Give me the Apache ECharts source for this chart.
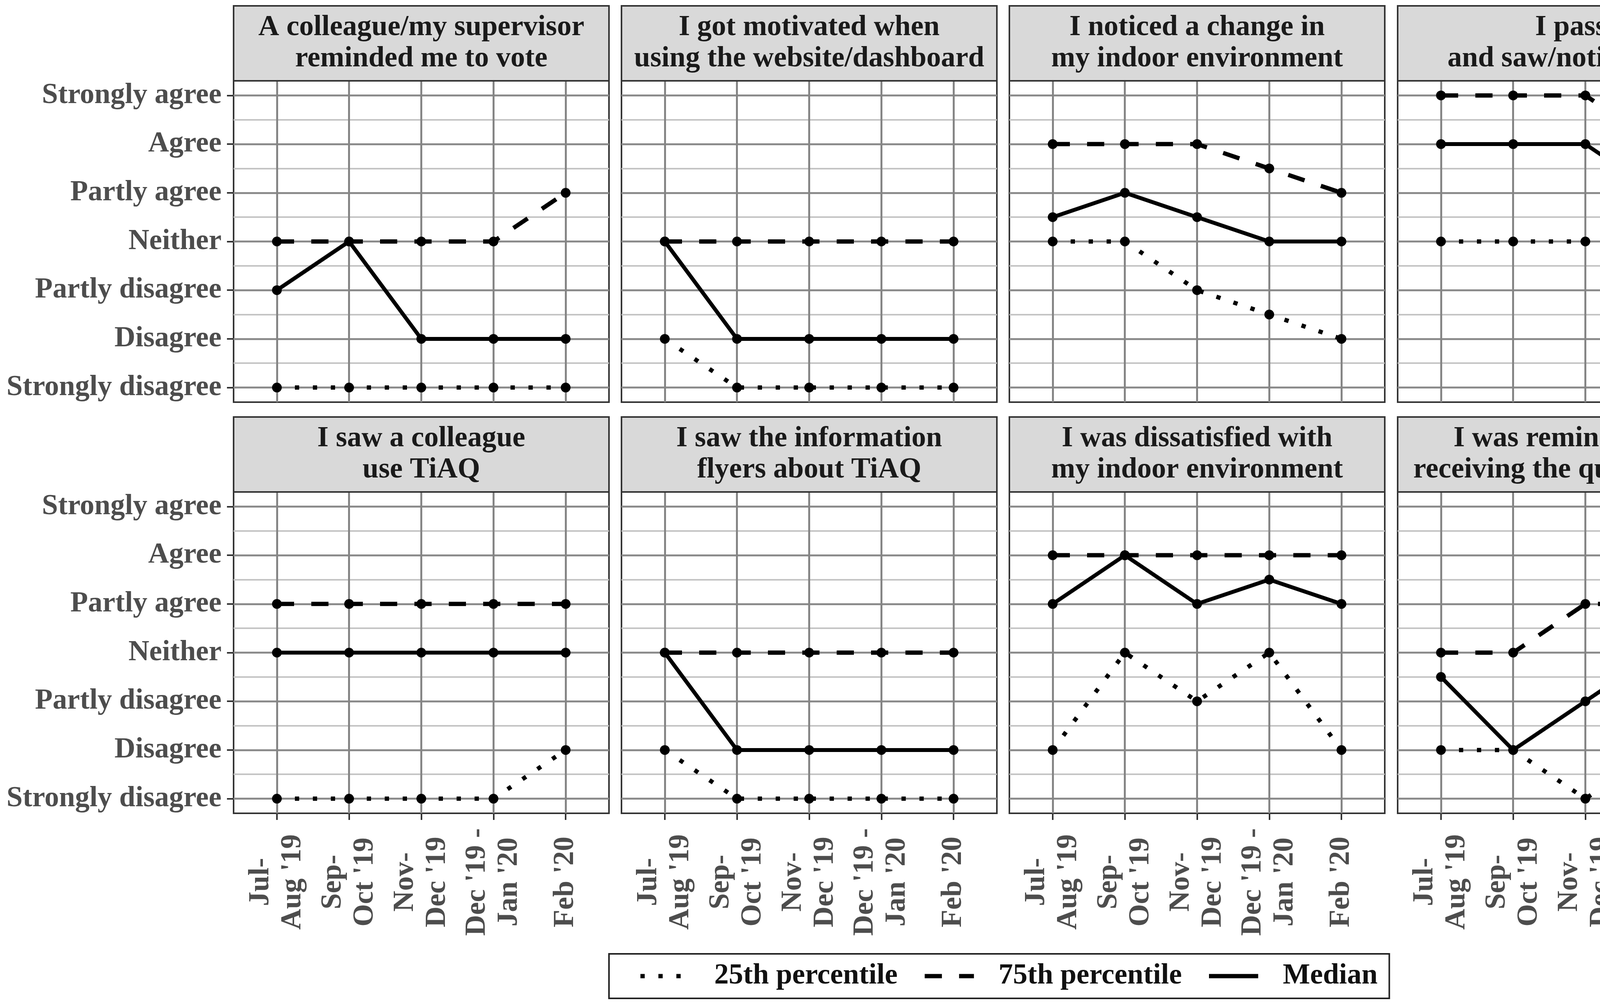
<!DOCTYPE html>
<html>
<head>
<meta charset="utf-8">
<script src="https://cdn.jsdelivr.net/npm/echarts@6/dist/echarts.min.js"></script>
</head>
<body style="margin:0;background:#fff">
<div id="main" style="width:4550px;height:2574px;"></div>
<script type="text/javascript">
// survey periods (x) and answer scale (y: 1 = Strongly disagree ... 7 = Strongly agree)
var periods = ["Jul-\nAug '19", "Sep-\nOct '19", "Nov-\nDec '19", "Dec '19 -\nJan '20", "Feb '20"];
var levels = ['Strongly disagree', 'Disagree', 'Partly disagree', 'Neither', 'Partly agree', 'Agree', 'Strongly agree'];
var statements = [
    'A colleague/my supervisor\nreminded me to vote',
    'I got motivated when\nusing the website/dashboard',
    'I noticed a change in\nmy indoor environment',
    'I passed\nand saw/noticed TiAQ',
    'I saw a colleague\nuse TiAQ',
    'I saw the information\nflyers about TiAQ',
    'I was dissatisfied with\nmy indoor environment',
    'I was reminded when\nreceiving the questionnaires'
];
// one row per statement, one value per period
var p25 = [
    [1, 1, 1, 1, 1],
    [2, 1, 1, 1, 1],
    [4, 4, 3, 2.5, 2],
    [4, 4, 4, 4, 4.5],
    [1, 1, 1, 1, 2],
    [2, 1, 1, 1, 1],
    [2, 4, 3, 4, 2],
    [2, 2, 1, 2, 2]
];
var p75 = [
    [4, 4, 4, 4, 5],
    [4, 4, 4, 4, 4],
    [6, 6, 6, 5.5, 5],
    [7, 7, 7, 6, 6],
    [5, 5, 5, 5, 5],
    [4, 4, 4, 4, 4],
    [6, 6, 6, 6, 6],
    [4, 4, 5, 5, 4]
];
var median = [
    [3, 4, 2, 2, 2],
    [4, 2, 2, 2, 2],
    [4.5, 5, 4.5, 4, 4],
    [6, 6, 6, 5, 6],
    [4, 4, 4, 4, 4],
    [4, 2, 2, 2, 2],
    [5, 6, 5, 5.5, 5],
    [3.5, 2, 3, 4, 2.5]
];

var myChart = echarts.init(document.getElementById('main'));

var FONT = 'Liberation Serif';
var FS = 74;
var colLeft = [598, 1591, 2584, 3578];
var panelW = 961;
var stripTop = [15, 1068];
var stripH = 192;
var plotH = 823;

var xTicks = periods.map(function (p, k) { return k + 1; });
var yTicks = levels.map(function (l, k) { return k + 1; });
var yMinor = yTicks.slice(0, -1).map(function (v) { return v + 0.5; });

var lineDefs = [
    {name: '25th percentile', rows: p25, type: [11, 35], width: 11},
    {name: '75th percentile', rows: p75, type: [44, 44], width: 11},
    {name: 'Median', rows: median, type: 'solid', width: 10}
];

var grids = [], xAxes = [], yAxes = [], series = [], graphics = [];

for (var i = 0; i < statements.length; i++) {
    var row = Math.floor(i / 4), col = i % 4;
    var panelX = colLeft[col], panelY = stripTop[row] + stripH;

    grids.push({
        left: panelX, top: panelY, width: panelW, height: plotH,
        show: true, backgroundColor: '#fff', borderColor: '#333', borderWidth: 4,
        outerBoundsMode: 'none'
    });

    // strip header above each panel
    graphics.push({
        type: 'rect', z: 10,
        shape: {x: panelX, y: stripTop[row], width: panelW, height: stripH},
        style: {fill: '#d9d9d9', stroke: '#333', lineWidth: 4}
    });
    graphics.push({
        type: 'text', z: 11,
        style: {
            text: statements[i], x: panelX + panelW / 2, y: stripTop[row] + stripH / 2,
            align: 'center', verticalAlign: 'middle',
            fontFamily: FONT, fontWeight: 'bold', fontSize: FS, lineHeight: 80, fill: '#1a1a1a'
        }
    });

    xAxes.push({
        type: 'value', gridIndex: i, min: 0.4, max: 5.6,
        axisLine: {show: false},
        axisTick: {show: row === 1, customValues: xTicks, length: 17, lineStyle: {color: '#333', width: 4}},
        axisLabel: {
            show: row === 1, customValues: xTicks, rotate: 90, align: 'center', margin: 176,
            formatter: function (v) { return periods[Math.round(v) - 1] || ''; },
            color: '#4d4d4d', fontFamily: FONT, fontWeight: 'bold', fontSize: FS, lineHeight: 82
        },
        splitLine: {show: true, lineStyle: {color: '#858585', width: 5}}
    });

    yAxes.push({
        type: 'value', gridIndex: i, min: 0.7, max: 7.3, position: 'left',
        axisLine: {show: false},
        axisTick: {show: col === 0, customValues: yTicks, length: 17, lineStyle: {color: '#333', width: 4}},
        axisLabel: {
            show: col === 0, customValues: yTicks, margin: 31,
            formatter: function (v) { return levels[Math.round(v) - 1] || ''; },
            color: '#4d4d4d', fontFamily: FONT, fontWeight: 'bold', fontSize: FS
        },
        splitLine: {show: true, lineStyle: {color: '#8c8c8c', width: 5}}
    });
    // half-step gridlines
    yAxes.push({
        type: 'value', gridIndex: i, min: 0.7, max: 7.3, position: 'left',
        axisLine: {show: false},
        axisTick: {show: false, customValues: yMinor},
        axisLabel: {show: false, customValues: yMinor},
        splitLine: {show: true, lineStyle: {color: '#c4c4c4', width: 4}}
    });

    lineDefs.forEach(function (d) {
        series.push({
            name: d.name, type: 'line', xAxisIndex: i, yAxisIndex: 2 * i,
            data: d.rows[i].map(function (v, k) { return [k + 1, v]; }),
            symbol: 'circle', symbolSize: 25,
            itemStyle: {color: '#000'},
            lineStyle: {color: '#000', width: d.width, type: d.type, cap: 'butt'},
            emphasis: {disabled: true}
        });
    });
}

var option = {
    backgroundColor: '#fff',
    animation: false,
    grid: grids,
    xAxis: xAxes,
    yAxis: yAxes,
    series: series,
    graphic: graphics,
    legend: {
        left: 1559, top: 2443,
        orient: 'horizontal',
        padding: [20, 30, 20, 75],
        borderColor: '#222', borderWidth: 4,
        itemWidth: 126, itemHeight: 40, itemGap: 64,
        itemStyle: {opacity: 0},
        textStyle: {fontFamily: FONT, fontWeight: 'bold', fontSize: FS, color: '#111', padding: [0, 0, 0, 58]},
        data: lineDefs.map(function (d) {
            return {name: d.name, lineStyle: {color: '#000', width: 11, type: d.type, cap: 'butt'}};
        })
    }
};

myChart.setOption(option);
</script>
</body>
</html>
